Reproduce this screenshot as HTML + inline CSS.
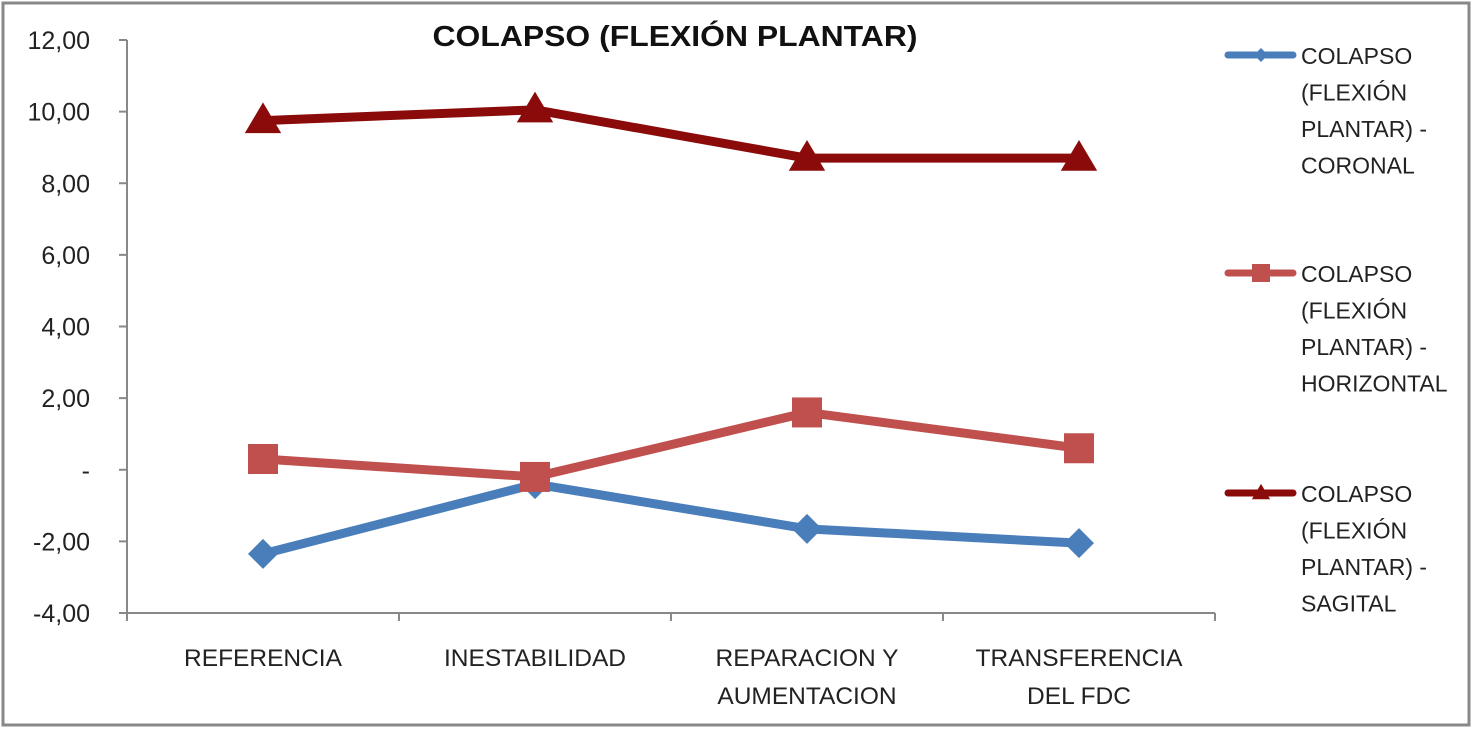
<!DOCTYPE html>
<html><head><meta charset="utf-8"><style>
body{margin:0;background:#fff;width:1475px;height:730px;overflow:hidden}
svg{display:block;font-family:"Liberation Sans",sans-serif}
</style></head><body>
<svg id="chart" width="1475" height="730" viewBox="0 0 1475 730">
<rect x="3" y="3" width="1466" height="722" fill="#fff" stroke="#888" stroke-width="3"/>
<text x="675" y="46" text-anchor="middle" font-size="29" font-weight="bold" fill="#111" textLength="485" lengthAdjust="spacingAndGlyphs">COLAPSO (FLEXIÓN PLANTAR)</text>
<g id="axes"></g><g id="series"></g><g id="legend"></g>
</svg>
<script>
const categories=[["REFERENCIA"],["INESTABILIDAD"],["REPARACION Y","AUMENTACION"],["TRANSFERENCIA","DEL FDC"]];
const coronal=[-2.35,-0.4,-1.65,-2.05];
const horizontal=[0.3,-0.2,1.6,0.6];
const sagital=[9.75,10.05,8.7,8.7];
const yTicks=[-4,-2,0,2,4,6,8,10,12];
const yTickLabels=["-4,00","-2,00","-","2,00","4,00","6,00","8,00","10,00","12,00"];
const seriesNames=[["COLAPSO","(FLEXIÓN","PLANTAR) -","CORONAL"],["COLAPSO","(FLEXIÓN","PLANTAR) -","HORIZONTAL"],["COLAPSO","(FLEXIÓN","PLANTAR) -","SAGITAL"]];
const NS="http://www.w3.org/2000/svg";
const x0=127,x1=1215,yTop=40,yBot=613,ymin=-4,ymax=12;
const y=v=>yBot-(v-ymin)/(ymax-ymin)*(yBot-yTop);
const cw=(x1-x0)/categories.length;
const x=i=>x0+cw*(i+0.5);
function mk(tag,attrs,parent){const e=document.createElementNS(NS,tag);for(const k in attrs)e.setAttribute(k,attrs[k]);parent.appendChild(e);return e;}
const axes=document.getElementById('axes');
let e=mk('line',{x1:x0,y1:yTop,x2:x0,y2:yBot,stroke:'#888','stroke-width':2},axes);


e=mk('line',{x1:x0,y1:yBot,x2:x1,y2:yBot,stroke:'#888','stroke-width':2},axes);


yTicks.forEach((t,i)=>{
 mk('line',{x1:x0-8,y1:y(t),x2:x0,y2:y(t),stroke:'#888','stroke-width':2},axes);
 const tx=mk('text',{x:90,y:y(t)+9,'text-anchor':'end','font-size':25,fill:'#222'},axes);
 tx.textContent=yTickLabels[i];
 
 
});
for(let i=0;i<=categories.length;i++)mk('line',{x1:x0+cw*i,y1:yBot,x2:x0+cw*i,y2:yBot+8,stroke:'#888','stroke-width':2},axes);
categories.forEach((c,i)=>{c.forEach((l,j)=>{
 const tx=mk('text',{x:x(i),y:666+j*38,'text-anchor':'middle','font-size':24.5,fill:'#222'},axes);
 tx.textContent=l;
 
 
});});
const colors=['#4a7ebb','#c0504d','#8b0a0a'];
const data=[coronal,horizontal,sagital];
const sg=document.getElementById('series');
function marker(kind,cx,cy,col,s,p){
 if(kind===0)return mk('polygon',{points:`${cx},${cy-s} ${cx+s},${cy} ${cx},${cy+s} ${cx-s},${cy}`,fill:col},p);
 if(kind===1)return mk('rect',{x:cx-s,y:cy-s,width:2*s,height:2*s,fill:col},p);
 return mk('polygon',{points:`${cx},${cy-s*1.3} ${cx+s*1.3},${cy+s*0.9} ${cx-s*1.3},${cy+s*0.9}`,fill:col},p);
}
data.forEach((d,k)=>{
 const g=mk('g',{},sg);
 
 
 const pl=mk('polyline',{points:d.map((v,i)=>x(i)+','+y(v)).join(' '),fill:'none',stroke:colors[k],'stroke-width':9,'stroke-linejoin':'round','stroke-linecap':'round'},g);
 
 
 d.forEach((v,i)=>{const m=marker(k,x(i),y(v),colors[k],k===2?14:15,g);
  
  });
});
const lg=document.getElementById('legend');
seriesNames.forEach((n,k)=>{
 const base=[55,273,493][k];
 const g=mk('g',{},lg);
 
 
 mk('line',{x1:1228,y1:base,x2:1293,y2:base,stroke:colors[k],'stroke-width':7,'stroke-linecap':'round'},g);
 marker(k,1261,base,colors[k],k===1?9:7,g);
 n.forEach((l,j)=>{const t=mk('text',{x:1301,y:base+9+j*36.5,'font-size':23,fill:'#222'},g);t.textContent=l;});
});
</script>
</body></html>
